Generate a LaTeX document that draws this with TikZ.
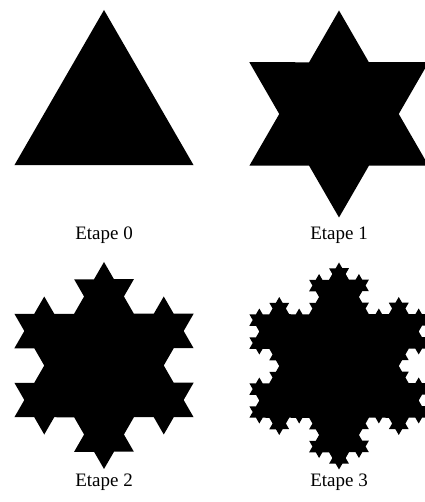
\documentclass[tikz,border=0pt]{standalone}
\usepackage{fontspec}
\setmainfont{Liberation Serif}
\usetikzlibrary{decorations.fractals}

\begin{document}
\begin{tikzpicture}[x=1pt, y=1pt,
   caption/.style={font=\fontsize{19}{19}\selectfont, inner sep=0pt},
   flake/.style={fill=black, decoration={Koch snowflake}}]
  \useasboundingbox (0,0) rectangle (424,502);

  % etape 0 : le triangle
  \fill[flake, shift={(104,388.5)}]
    (90:103.5) -- (330:103.5) -- (210:103.5) -- cycle;
  \node[caption] (e0) at (104,267) {Etape 0};

  % etape 1
  \fill[flake, shift={(339,388)}]
    decorate{ (90:103.5) -- (330:103.5) -- (210:103.5) -- cycle };
  \node[caption] (e1) at (339,267) {Etape 1};

  % etape 2
  \fill[flake, shift={(104,136.5)}]
    decorate{ decorate{ (90:103.5) -- (330:103.5) -- (210:103.5) -- cycle } };
  \node[caption] (e2) at (104,20) {Etape 2};

  % etape 3
  \fill[flake, shift={(339,136)}]
    decorate{ decorate{ decorate{ (90:103.5) -- (330:103.5) -- (210:103.5) -- cycle } } };
  \node[caption] (e3) at (339,20) {Etape 3};
\end{tikzpicture}
\end{document}
